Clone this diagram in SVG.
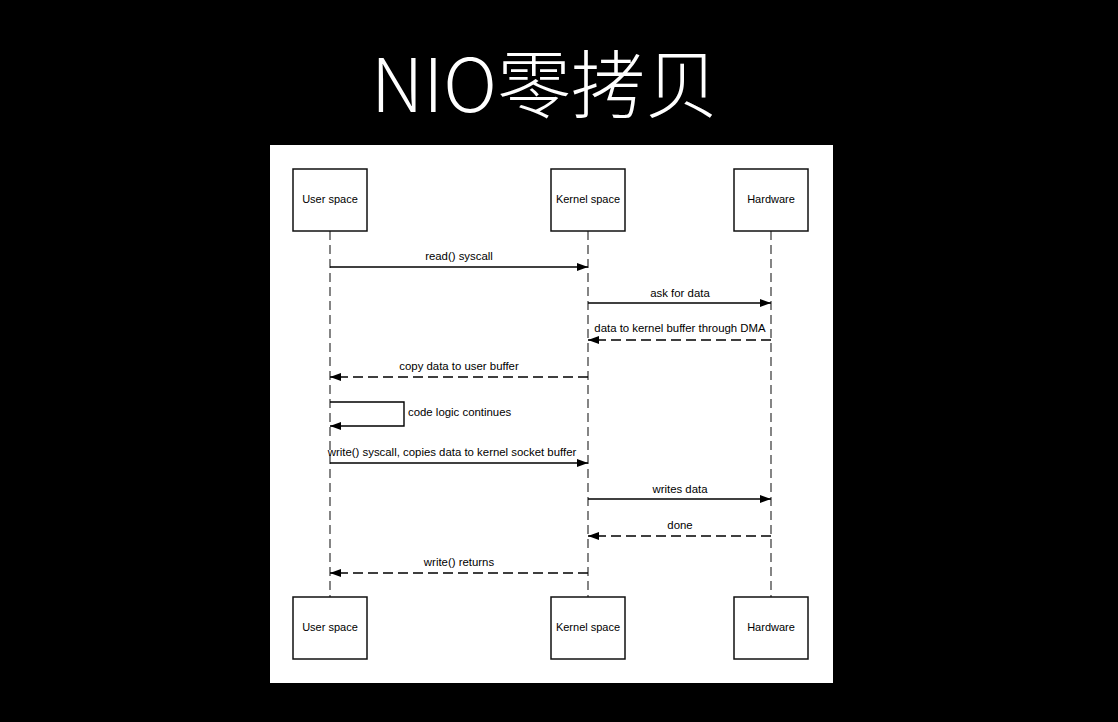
<svg xmlns="http://www.w3.org/2000/svg" width="1118" height="722" viewBox="0 0 1118 722">
<defs>
<marker id="ah" viewBox="0 0 11 8" refX="11" refY="4" markerWidth="11" markerHeight="8" markerUnits="userSpaceOnUse" orient="auto">
<path d="M0,0 L11,4 L0,8 Z" fill="#000"/>
</marker>
</defs>
<style>
.box{fill:#fff;stroke:#111;stroke-width:1.5}
.lbl{font-family:"Liberation Sans",Arial,sans-serif;font-size:11px;fill:#000;text-anchor:middle}
.life{stroke:#222;stroke-width:1.1;stroke-dasharray:9 5;fill:none}
.msg{stroke:#000;stroke-width:1.4;fill:none;marker-end:url(#ah)}
.ret{stroke:#000;stroke-width:1.4;fill:none;stroke-dasharray:10 5;marker-end:url(#ah)}
.ml{font-family:"Liberation Sans",Arial,sans-serif;font-size:11.4px;fill:#000;text-anchor:middle}
</style>
<rect width="1118" height="722" fill="#000"/>
<text x="545" y="112" font-family="'Noto Sans CJK SC','Noto Sans',sans-serif" font-weight="300" font-size="74" fill="#fff" text-anchor="middle">NIO零拷贝</text>
<rect x="270" y="145" width="563" height="538" fill="#fff"/>
<g id="lifelines">
<line class="life" x1="330" y1="231" x2="330" y2="597"/>
<line class="life" x1="588" y1="231" x2="588" y2="597"/>
<line class="life" x1="771" y1="231" x2="771" y2="597"/>
</g>
<g id="user-top"><rect class="box" x="293" y="169" width="74" height="62"/><text class="lbl" x="330" y="203">User space</text></g>
<g id="kernel-top"><rect class="box" x="551" y="169" width="74" height="62"/><text class="lbl" x="588" y="203">Kernel space</text></g>
<g id="hardware-top"><rect class="box" x="734" y="169" width="74" height="62"/><text class="lbl" x="771" y="203">Hardware</text></g>
<g id="user-bottom"><rect class="box" x="293" y="597" width="74" height="62"/><text class="lbl" x="330" y="631">User space</text></g>
<g id="kernel-bottom"><rect class="box" x="551" y="597" width="74" height="62"/><text class="lbl" x="588" y="631">Kernel space</text></g>
<g id="hardware-bottom"><rect class="box" x="734" y="597" width="74" height="62"/><text class="lbl" x="771" y="631">Hardware</text></g>
<g id="connectors">
<line class="msg" x1="330" y1="267" x2="588" y2="267"/>
<text class="ml" x="459" y="260">read() syscall</text>
<line class="msg" x1="588" y1="303" x2="771" y2="303"/>
<text class="ml" x="680" y="297">ask for data</text>
<line class="ret" x1="771" y1="340" x2="588" y2="340"/>
<text class="ml" x="680" y="332">data to kernel buffer through DMA</text>
<line class="ret" x1="588" y1="377" x2="330" y2="377"/>
<text class="ml" x="459" y="370">copy data to user buffer</text>
<polyline class="msg" points="330,402 404,402 404,426 330,426"/>
<text class="ml" x="408" y="416" style="text-anchor:start">code logic continues</text>
<line class="msg" x1="330" y1="463" x2="588" y2="463"/>
<text class="ml" x="452" y="456">write() syscall, copies data to kernel socket buffer</text>
<line class="msg" x1="588" y1="499" x2="771" y2="499"/>
<text class="ml" x="680" y="493">writes data</text>
<line class="ret" x1="771" y1="536" x2="588" y2="536"/>
<text class="ml" x="680" y="529">done</text>
<line class="ret" x1="588" y1="573" x2="330" y2="573"/>
<text class="ml" x="459" y="566">write() returns</text>
</g>
</svg>
